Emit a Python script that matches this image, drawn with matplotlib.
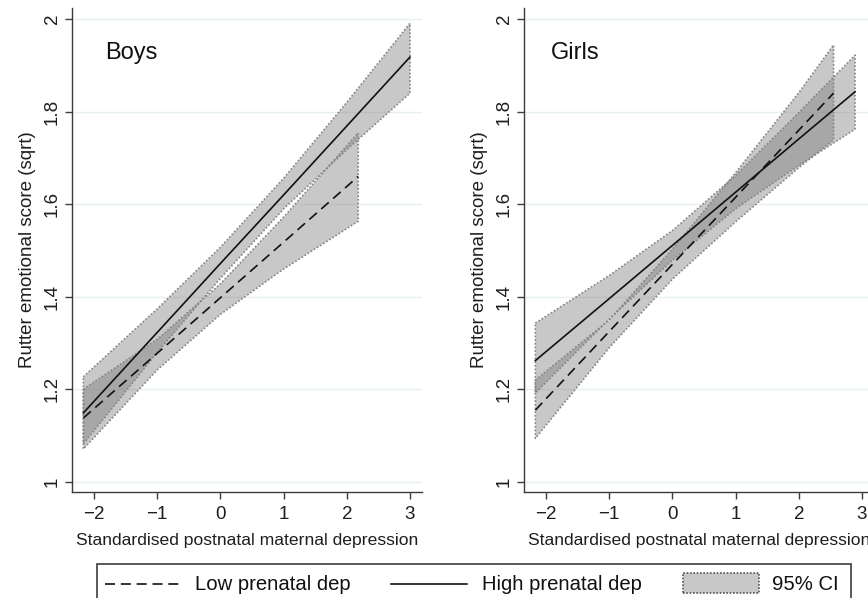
import numpy as np
import matplotlib
matplotlib.use("Agg")
import matplotlib.pyplot as plt
from matplotlib.lines import Line2D
from matplotlib.patches import Rectangle

plt.rcParams['font.family'] = ['Liberation Sans', 'DejaVu Sans']

# ---------------- data ----------------
panels = ["Boys", "Girls"]

# Boys, high prenatal depression
boys_high_x = [-2.17, -1.0, 0.0, 1.0, 2.0, 3.0]
boys_high_mean = [1.149, 1.323, 1.472, 1.620, 1.769, 1.918]
boys_high_lo = [1.082, 1.280, 1.440, 1.590, 1.718, 1.840]
boys_high_hi = [1.227, 1.374, 1.507, 1.656, 1.820, 1.991]

# Boys, low prenatal depression
boys_low_x = [-2.17, -1.0, 0.0, 1.0, 2.18]
boys_low_mean = [1.138, 1.278, 1.398, 1.518, 1.660]
boys_low_lo = [1.071, 1.242, 1.362, 1.460, 1.563]
boys_low_hi = [1.200, 1.308, 1.428, 1.572, 1.754]

# Girls, high prenatal depression
girls_high_x = [-2.17, -1.0, 0.0, 1.0, 2.0, 2.89]
girls_high_mean = [1.262, 1.396, 1.511, 1.626, 1.741, 1.843]
girls_high_lo = [1.192, 1.352, 1.479, 1.590, 1.684, 1.762]
girls_high_hi = [1.343, 1.446, 1.543, 1.662, 1.798, 1.922]

# Girls, low prenatal depression
girls_low_x = [-2.17, -1.0, 0.0, 1.0, 2.0, 2.55]
girls_low_mean = [1.155, 1.325, 1.470, 1.615, 1.760, 1.840]
girls_low_lo = [1.094, 1.290, 1.438, 1.562, 1.679, 1.739]
girls_low_hi = [1.220, 1.350, 1.503, 1.668, 1.841, 1.944]

x_ticks = [-2, -1, 0, 1, 2, 3]
y_ticks = [1, 1.2, 1.4, 1.6, 1.8, 2]
y_ticklabels = ["1", "1.2", "1.4", "1.6", "1.8", "2"]
x_label = "Standardised postnatal maternal depression"
y_label = "Rutter emotional score (sqrt)"
legend_labels = ["Low prenatal dep", "High prenatal dep", "95% CI"]

series = {
    "Boys": [
        (boys_low_x, boys_low_mean, boys_low_lo, boys_low_hi, "low"),
        (boys_high_x, boys_high_mean, boys_high_lo, boys_high_hi, "high"),
    ],
    "Girls": [
        (girls_low_x, girls_low_mean, girls_low_lo, girls_low_hi, "low"),
        (girls_high_x, girls_high_mean, girls_high_lo, girls_high_hi, "high"),
    ],
}

# ---------------- styling ----------------
W, H = 868, 598
fig = plt.figure(figsize=(W / 100, H / 100), dpi=100)

band_color = "#777777"
band_alpha = 0.4
edge_color = "#858585"
grid_color = "#e6eff1"
spine_color = "#3c3c3c"
text_color = "#1e1e1e"

axes_px = [(72, 8, 350, 484), (524, 8, 350, 484)]
label_x = {"Boys": 0.094, "Girls": 0.077}

for (px, py, pw, ph), name in zip(axes_px, panels):
    ax = fig.add_axes([px / W, (H - py - ph) / H, pw / W, ph / H])
    ax.set_xlim(-2.35, 3.19)
    ax.set_ylim(0.978, 2.024)
    for s in ["top", "right"]:
        ax.spines[s].set_visible(False)
    for s in ["left", "bottom"]:
        ax.spines[s].set_color(spine_color)
        ax.spines[s].set_linewidth(1.0)
    ax.set_yticks(y_ticks)
    ax.set_yticklabels(y_ticklabels, rotation=90, va="center")
    ax.set_xticks(x_ticks)
    ax.tick_params(axis="both", direction="out", length=5, width=1,
                   color=spine_color, labelsize=13.5, labelcolor=text_color)
    ax.tick_params(axis="y", pad=3)
    ax.tick_params(axis="x", pad=5)
    ax.grid(axis="y", color=grid_color, linewidth=1.0)
    ax.set_axisbelow(True)
    ax.set_xlabel(x_label, fontsize=12.6, color=text_color, labelpad=7)
    ax.set_ylabel(y_label, fontsize=13.5, color=text_color, labelpad=6)

    for xs, m, lo, hi, kind in series[name]:
        xs = np.asarray(xs); lo = np.asarray(lo); hi = np.asarray(hi)
        ax.fill_between(xs, lo, hi, facecolor=band_color, alpha=band_alpha,
                        linewidth=0, zorder=2)
        ox = np.concatenate([xs, xs[::-1], xs[:1]])
        oy = np.concatenate([hi, lo[::-1], hi[:1]])
        ax.plot(ox, oy, color=edge_color, linewidth=1.2,
                linestyle=(0, (1, 1.2)), zorder=3)
    for xs, m, lo, hi, kind in series[name]:
        if kind == "low":
            ax.plot(xs, m, color="#111111", linewidth=1.2,
                    linestyle=(0, (6, 3.5)), zorder=4)
        else:
            ax.plot(xs, m, color="#111111", linewidth=1.2, zorder=4)

    ax.text(label_x[name], 0.907, name,
            transform=ax.transAxes, fontsize=17, color="#111111",
            va="center", ha="left")

# ---------------- legend (drawn in figure pixels) ----------------
def fx(p):
    return p / W

def fy(p):
    return (H - p) / H

fig.patches.append(Rectangle((fx(97), fy(610)), fx(851) - fx(97), fy(564) - fy(610),
                             transform=fig.transFigure, facecolor="white",
                             edgecolor=spine_color, linewidth=1.2, zorder=1))
ly = fy(584)
fig.lines.append(Line2D([fx(105), fx(182)], [ly, ly], transform=fig.transFigure,
                        color="#111111", linewidth=1.2, linestyle=(0, (6, 3.5))))
fig.text(fx(195), ly, legend_labels[0], fontsize=14.6, va="center", ha="left",
         color="#111111")
fig.lines.append(Line2D([fx(391), fx(467)], [ly, ly], transform=fig.transFigure,
                        color="#111111", linewidth=1.2))
fig.text(fx(482), ly, legend_labels[1], fontsize=14.6, va="center", ha="left",
         color="#111111")
fig.patches.append(Rectangle((fx(683), fy(593)), fx(759) - fx(683), fy(573) - fy(593),
                             transform=fig.transFigure, facecolor="#c8c8c8",
                             edgecolor="#555555", linewidth=1.2,
                             linestyle=(0, (1, 1)), zorder=2))
fig.text(fx(772), ly, legend_labels[2], fontsize=14.6, va="center", ha="left",
         color="#111111")

fig.savefig("out.png", dpi=100)
